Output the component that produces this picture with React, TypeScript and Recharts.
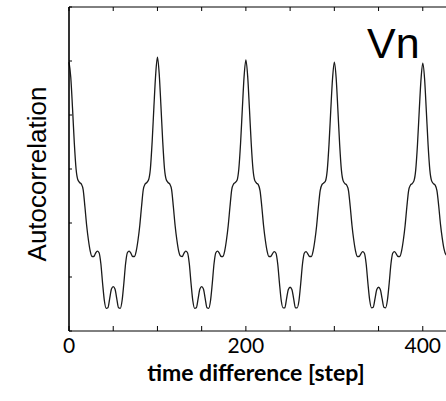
import { LineChart, Line, XAxis, YAxis } from "recharts";

// lag step between samples [step]
const LAG_STEP = 2;

// autocorrelation of Vn, every 2 steps (one row per period)
const acfPeriod0 = [
  4.98, 4.7, 4.12, 3.48, 3.0, 2.8, 2.75, 2.72, 2.62, 2.3, 1.95, 1.68, 1.48, 1.38, 1.38, 1.44, 1.48, 1.45, 1.25, 0.88, 0.56, 0.42, 0.43, 0.6, 0.78,
  0.82, 0.78, 0.6, 0.43, 0.42, 0.56, 0.88, 1.25, 1.45, 1.48, 1.44, 1.38, 1.38, 1.48, 1.68, 1.95, 2.3, 2.62, 2.72, 2.75, 2.8, 3.0, 3.5, 4.15, 4.75,
];
const acfPeriod1 = [
  5.07, 4.76, 4.15, 3.5, 3.0, 2.8, 2.75, 2.72, 2.62, 2.3, 1.95, 1.68, 1.48, 1.39, 1.38, 1.44, 1.48, 1.45, 1.25, 0.88, 0.56, 0.42, 0.43, 0.6, 0.78,
  0.82, 0.78, 0.6, 0.43, 0.42, 0.56, 0.88, 1.25, 1.45, 1.48, 1.44, 1.38, 1.38, 1.48, 1.68, 1.95, 2.3, 2.62, 2.72, 2.75, 2.79, 3.0, 3.48, 4.12, 4.72,
];
const acfPeriod2 = [
  5.02, 4.72, 4.12, 3.48, 3.0, 2.79, 2.74, 2.71, 2.6, 2.3, 1.95, 1.68, 1.48, 1.38, 1.38, 1.43, 1.47, 1.44, 1.24, 0.88, 0.56, 0.43, 0.43, 0.6, 0.77,
  0.81, 0.77, 0.6, 0.43, 0.43, 0.56, 0.88, 1.24, 1.44, 1.47, 1.43, 1.38, 1.38, 1.48, 1.68, 1.95, 2.3, 2.6, 2.71, 2.74, 2.78, 2.98, 3.46, 4.1, 4.68,
];
const acfPeriod3 = [
  4.98, 4.7, 4.1, 3.46, 2.98, 2.78, 2.73, 2.7, 2.6, 2.3, 1.95, 1.68, 1.48, 1.38, 1.38, 1.43, 1.47, 1.44, 1.24, 0.88, 0.57, 0.43, 0.44, 0.6, 0.77,
  0.81, 0.77, 0.6, 0.44, 0.43, 0.57, 0.88, 1.24, 1.44, 1.47, 1.43, 1.38, 1.38, 1.48, 1.68, 1.95, 2.3, 2.6, 2.7, 2.73, 2.78, 2.98, 3.45, 4.08, 4.66,
];
const acfPeriod4 = [
  4.96, 4.68, 4.08, 3.45, 2.98, 2.78, 2.73, 2.7, 2.6, 2.32, 1.98, 1.72, 1.52, 1.42, 1.4, 1.44, 1.47, 1.44, 1.24, 0.88, 0.57, 0.43, 0.44, 0.6, 0.77,
  0.81,
];

const xTicks = [0, 50, 100, 150, 200, 250, 300, 350, 400, 450];
const xTickLabels = [0, 200, 400];
const yTicks = [0, 1, 2, 3, 4, 5, 6];

const acfValues = [...acfPeriod0, ...acfPeriod1, ...acfPeriod2, ...acfPeriod3, ...acfPeriod4];
const data = acfValues.map((v, i) => ({ lag: i * LAG_STEP, acf: v }));

const PLOT_LEFT = 69;
const PLOT_TOP = 7;
const PLOT_BOTTOM = 331;

const BottomTick = (props: any) => {
  const { x, payload } = props;
  return (
    <g>
      <line x1={x} x2={x} y1={PLOT_BOTTOM} y2={PLOT_BOTTOM - 5} stroke="#000" strokeWidth={1} />
      {xTickLabels.includes(payload.value) && (
        <text x={x} y={353} textAnchor="middle" fontFamily="Lato, 'Open Sans', sans-serif" fontSize={21} fill="#000">
          {payload.value}
        </text>
      )}
    </g>
  );
};

const TopTick = (props: any) => {
  const { x } = props;
  return <line x1={x} x2={x} y1={PLOT_TOP} y2={PLOT_TOP + 4} stroke="#000" strokeWidth={1} />;
};

const LeftTick = (props: any) => {
  const { y } = props;
  return <line x1={PLOT_LEFT} x2={PLOT_LEFT + 3} y1={y} y2={y} stroke="#000" strokeWidth={1} />;
};

export default function App() {
  return (
    <div
      style={{
        position: "absolute",
        left: 0,
        top: 0,
        width: 446,
        height: 401,
        overflow: "hidden",
        background: "#fff",
      }}
    >
      <LineChart
        width={470}
        height={401}
        data={data}
        margin={{ top: PLOT_TOP - 1, right: 3, left: 0, bottom: 0 }}
      >
        <XAxis
          dataKey="lag"
          type="number"
          domain={[0, 450]}
          ticks={xTicks}
          height={70}
          axisLine={{ stroke: "#000", strokeWidth: 1 }}
          tickLine={false}
          tick={<BottomTick />}
          interval={0}
          label={{
            content: () => (
              <text
                x={256}
                y={381}
                textAnchor="middle"
                fontFamily="Lato, 'Open Sans', sans-serif"
                fontWeight="bold"
                fontSize={23}
                fill="#000"
              >
                time difference [step]
              </text>
            ),
          }}
        />
        <XAxis
          xAxisId="top"
          orientation="top"
          dataKey="lag"
          type="number"
          domain={[0, 450]}
          ticks={xTicks}
          height={1}
          axisLine={{ stroke: "#000", strokeWidth: 1 }}
          tickLine={false}
          tick={<TopTick />}
          interval={0}
        />
        <YAxis
          type="number"
          domain={[0, 6]}
          ticks={yTicks}
          width={PLOT_LEFT}
          axisLine={{ stroke: "#000", strokeWidth: 1.6 }}
          tickLine={false}
          tick={<LeftTick />}
          interval={0}
          label={{
            content: () => (
              <text
                x={37}
                y={174}
                transform="rotate(-90, 37, 174)"
                textAnchor="middle"
                dominantBaseline="central"
                fontFamily="'Liberation Sans', Arial, sans-serif"
                fontSize={26}
                fill="#000"
              >
                Autocorrelation
              </text>
            ),
          }}
        />
        <Line
          xAxisId="top"
          type="monotone"
          dataKey="acf"
          stroke="none"
          dot={false}
          activeDot={false}
          isAnimationActive={false}
        />
        <Line
          type="monotone"
          dataKey="acf"
          stroke="#1a1a1a"
          strokeWidth={1.3}
          dot={false}
          isAnimationActive={false}
        />
      </LineChart>
      <div
        style={{
          position: "absolute",
          left: 367,
          top: 19,
          fontFamily: "'Liberation Sans', Arial, sans-serif",
          fontSize: 43,
          color: "#000",
        }}
      >
        Vn
      </div>
    </div>
  );
}
